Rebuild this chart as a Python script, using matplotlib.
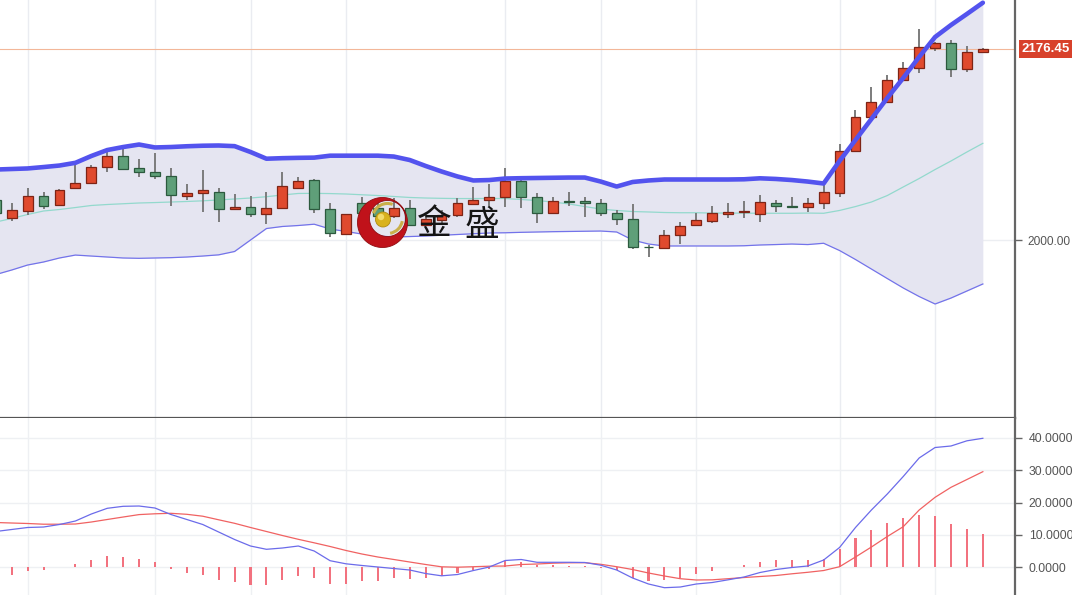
import matplotlib
matplotlib.use("Agg")
import matplotlib.pyplot as plt
import matplotlib.transforms as mtransforms
from matplotlib.patches import Circle, PathPatch, Arc
from matplotlib.path import Path
import numpy as np

# ---------------- data ----------------
idx = list(range(-1, 62))
open_ = [2036.9, 2020.3, 2026.5, 2040.7, 2032.6, 2047.8, 2052.9, 2067.7, 2077.6, 2066.8,
         2063.1, 2058.9, 2040.9, 2043.4, 2044.1, 2028.6, 2030.2, 2024.0, 2029.3, 2047.8,
         2055.2, 2028.6, 2005.3, 2034.2, 2029.6, 2022.5, 2029.3, 2013.9, 2018.5, 2023.1,
         2033.0, 2036.7, 2039.5, 2054.8, 2039.5, 2025.2, 2035.9, 2036.3, 2034.5, 2024.7,
         2019.7, 1993.5, 1992.3, 2004.6, 2013.9, 2017.8, 2024.0, 2025.5, 2024.0, 2034.5,
         2031.0, 2030.8, 2034.5, 2043.7, 2082.5, 2113.4, 2127.5, 2147.8, 2158.6, 2177.1,
         2181.7, 2157.7, 2174.0]
high = [2038.8, 2034.2, 2048.0, 2044.3, 2047.1, 2069.3, 2069.3, 2084.1, 2087.8, 2074.8,
        2080.4, 2066.5, 2051.7, 2064.7, 2048.0, 2042.5, 2040.7, 2044.3, 2062.8, 2058.5,
        2056.4, 2034.2, 2024.0, 2039.7, 2038.8, 2038.8, 2037.0, 2023.1, 2027.7, 2038.8,
        2049.2, 2051.7, 2066.5, 2058.5, 2043.4, 2039.7, 2044.6, 2039.7, 2037.9, 2027.7,
        2033.3, 1995.4, 2009.2, 2016.9, 2024.9, 2031.4, 2034.2, 2036.0, 2041.6, 2037.0,
        2040.0, 2038.8, 2050.8, 2088.7, 2120.1, 2141.1, 2152.4, 2164.7, 2194.7, 2183.2,
        2184.8, 2179.2, 2177.0]
low = [2022.2, 2017.6, 2023.1, 2028.6, 2032.3, 2047.6, 2052.7, 2062.8, 2065.1, 2058.5,
       2056.4, 2031.4, 2037.0, 2025.9, 2016.9, 2028.2, 2021.5, 2014.8, 2029.1, 2047.6,
       2024.9, 2003.1, 2005.1, 2022.2, 2020.3, 2020.3, 2012.9, 2012.9, 2015.7, 2021.3,
       2032.3, 2030.8, 2030.8, 2029.3, 2015.7, 2024.9, 2031.4, 2021.5, 2022.2, 2013.9,
       1991.4, 1984.6, 1992.2, 1996.3, 2013.4, 2016.0, 2020.1, 2020.1, 2016.9, 2026.1,
       2030.5, 2026.1, 2028.6, 2040.0, 2082.2, 2111.5, 2127.0, 2147.4, 2154.6, 2174.9,
       2150.9, 2155.5, 2173.5]
close = [2024.9, 2027.7, 2040.7, 2031.7, 2046.2, 2052.9, 2067.4, 2077.6, 2065.6, 2063.1,
         2058.9, 2041.6, 2043.7, 2045.9, 2028.4, 2030.5, 2024.0, 2029.3, 2049.9, 2054.8,
         2028.4, 2006.2, 2023.7, 2024.9, 2021.9, 2029.3, 2014.3, 2019.4, 2023.1, 2033.9,
         2037.0, 2040.0, 2054.8, 2039.5, 2025.2, 2036.3, 2035.4, 2034.2, 2025.2, 2019.7,
         1993.3, 1993.1, 2004.6, 2012.9, 2018.5, 2024.7, 2026.1, 2025.7, 2035.4, 2031.4,
         2030.8, 2034.5, 2044.6, 2082.5, 2113.9, 2127.5, 2147.8, 2158.6, 2178.0, 2181.7,
         2157.7, 2173.4, 2176.45]

boll_upper = [2065.1, 2065.6, 2066.1, 2067.4, 2068.8, 2071.3, 2077.6, 2083.1, 2085.9, 2088.2,
              2085.5, 2085.9, 2086.6, 2087.1, 2087.3, 2086.7, 2081.3, 2075.1, 2075.6, 2075.9,
              2076.1, 2077.9, 2077.9, 2077.9, 2077.9, 2077.1, 2073.9, 2068.4, 2063.3, 2058.7,
              2055.0, 2055.4, 2056.8, 2057.1, 2057.3, 2057.5, 2057.7, 2057.7, 2054.0, 2049.4,
              2053.6, 2055.0, 2055.9, 2055.9, 2055.9, 2055.9, 2055.9, 2056.1, 2057.0, 2056.4,
              2055.4, 2054.0, 2052.2, 2073.0, 2092.4, 2111.8, 2131.2, 2149.7, 2169.1, 2187.5,
              2198.6, 2208.8, 2219.2]
boll_mid = [2016.6, 2019.9, 2023.6, 2026.8, 2028.2, 2030.0, 2031.9, 2032.8, 2033.5, 2034.2,
            2034.6, 2035.1, 2035.6, 2036.2, 2037.0, 2037.9, 2038.8, 2040.0, 2041.6, 2043.0,
            2043.1, 2042.9, 2042.5, 2041.8, 2041.1, 2040.2, 2039.3, 2038.8, 2038.5, 2038.3,
            2038.3, 2038.4, 2038.3, 2037.4, 2036.5, 2035.1, 2033.3, 2030.9, 2028.6, 2027.3,
            2026.3, 2025.9, 2025.4, 2025.2, 2025.2, 2024.9, 2024.9, 2024.8, 2024.7, 2024.7,
            2024.7, 2024.9, 2024.7, 2027.3, 2030.9, 2035.1, 2041.1, 2049.0, 2056.8, 2065.1,
            2073.0, 2081.3, 2089.3]
boll_lower = [1968.1, 1972.3, 1976.9, 1979.7, 1983.4, 1986.1, 1985.2, 1984.3, 1983.4, 1983.1,
              1983.4, 1983.7, 1984.3, 1985.2, 1986.3, 1989.4, 2000.0, 2010.6, 2012.5, 2013.4,
              2014.6, 2010.2, 2007.9, 2005.5, 2003.7, 2002.8, 2003.2, 2003.7, 2004.4, 2005.1,
              2005.8, 2006.5, 2006.7, 2007.1, 2007.4, 2007.7, 2007.9, 2008.1, 2008.3, 2007.4,
              2000.0, 1996.3, 1994.5, 1994.5, 1994.5, 1994.5, 1994.5, 1994.7, 1995.4, 1995.8,
              1996.3, 1995.8, 1997.0, 1990.3, 1982.0, 1973.2, 1964.4, 1955.7, 1947.8, 1940.9,
              1946.4, 1952.9, 1959.4]

macd_dif = [11.01, 11.63, 12.25, 12.40, 13.18, 14.26, 16.43, 18.20, 18.82, 18.91,
            18.29, 16.28, 14.73, 13.18, 10.85, 8.53, 6.51, 5.49, 5.89, 6.51,
            4.96, 1.95, 0.99, 0.47, 0.00, -0.47, -0.93, -2.02, -2.73, -2.33,
            -1.09, 0.00, 2.02, 2.33, 1.46, 1.46, 1.46, 1.40, 0.56, -0.93,
            -3.41, -5.27, -6.42, -6.20, -5.27, -4.81, -3.97, -3.10, -1.71, -0.78,
            -0.16, 0.31, 2.17, 6.05, 12.25, 17.67, 22.64, 28.06, 33.80, 37.05,
            37.52, 39.13, 39.91]
macd_dea = [13.80, 13.64, 13.49, 13.27, 13.27, 13.33, 13.95, 14.73, 15.50, 16.25,
            16.50, 16.65, 16.34, 15.75, 14.64, 13.55, 12.25, 11.01, 9.77, 8.59,
            7.50, 6.36, 5.12, 4.03, 3.10, 2.33, 1.55, 0.78, 0.06, -0.06,
            0.09, 0.25, 0.31, 0.78, 0.93, 1.18, 1.30, 1.33, 0.84, 0.09,
            -0.78, -1.86, -2.79, -3.63, -4.03, -3.97, -3.63, -3.26, -2.95, -2.64,
            -2.11, -1.64, -1.09, 0.09, 3.10, 6.20, 9.46, 12.50, 17.67, 21.61,
            24.71, 27.13, 29.55]
macd_hist = [-0.60, -2.39, -1.24, -0.93, -0.10, 1.02, 2.26, 3.41, 3.10, 2.57,
             1.55, -0.53, -1.86, -2.39, -3.94, -4.74, -5.49, -5.49, -3.94, -2.70,
             -3.41, -5.18, -5.18, -4.25, -4.25, -3.41, -3.72, -3.41, -2.88, -1.86,
             -1.02, -0.53, 1.77, 1.46, 0.71, 0.71, 0.40, 0.40, -0.31, -0.84,
             -3.41, -4.43, -4.12, -3.41, -2.08, -1.15, 0.05, 0.62, 1.46, 2.08,
             2.08, 2.26, 2.57, 5.58, 8.99, 11.38, 13.64, 15.19, 16.22, 15.91,
             13.43, 11.88, 10.23]

price_ticks = [2000]
macd_ticks = [0, 10, 20, 30, 40]
grid_positions = [1, 9, 15, 21, 31, 37, 43, 52, 58]
last_price = close[-1]

# ---------------- figure ----------------
plt.rcParams['font.family'] = ['Liberation Sans', 'DejaVu Sans']
W, H = 1072, 595
fig = plt.figure(figsize=(W / 100, H / 100), dpi=100)
fig.patch.set_facecolor('white')

ax_right = 1015
split = 418
ax = fig.add_axes([0, 1 - split / H, ax_right / W, split / H])
ax2 = fig.add_axes([0, 0, ax_right / W, (H - split) / H])

x = np.array(idx, dtype=float)
o = np.array(open_); h = np.array(high); l = np.array(low); c = np.array(close)

xlim = (-0.735, 63.02)

# Bollinger band
ax.fill_between(x, boll_lower, boll_upper, color='#e5e5f1', lw=0, zorder=1)
ax.plot(x, boll_mid, color='#93d9cd', lw=0.9, zorder=2)
ax.plot(x, boll_lower, color='#7373ea', lw=0.9, zorder=2)

# candles
up = c >= o
red, red_edge = '#e04a2e', '#7e2416'
green, green_edge = '#5f9f79', '#2c5a3e'
ax.vlines(x, l, h, color='#7c7c7c', lw=1.4, zorder=3)
body_b = np.minimum(o, c)
body_h = np.maximum(np.abs(c - o), 0.9)
ax.bar(x, body_h, bottom=body_b, width=0.62,
       color=np.where(up, red, green), edgecolor=np.where(up, red_edge, green_edge),
       linewidth=0.9, zorder=4)

ax.plot(x, boll_upper, color='#5353ee', lw=3.3, zorder=5, solid_capstyle='round')

ax.axhline(last_price, color='#f3b799', lw=0.8, zorder=2)

ax.set_xlim(*xlim)
ax.set_ylim(1835.6, 2221.7)
ax.set_xticks(grid_positions)
ax.tick_params(axis='x', length=0, labelbottom=False)
ax.grid(axis='x', color='#eaecf1', lw=1, zorder=0)
ax.grid(axis='y', color='#eceef2', lw=1, zorder=0)
ax.set_axisbelow(True)
ax.yaxis.tick_right()
ax.set_yticks(price_ticks)
ax.set_yticklabels([f'{v:.2f}' for v in price_ticks])
ax.tick_params(axis='y', direction='out', length=5, width=1, color='#666666',
               labelsize=8.6, labelcolor='#555555', pad=4)
for s in ['left', 'top']:
    ax.spines[s].set_visible(False)
ax.spines['right'].set_color('#666666'); ax.spines['right'].set_linewidth(1.6)
ax.spines['bottom'].set_color('#555555'); ax.spines['bottom'].set_linewidth(1.6)

trans = mtransforms.blended_transform_factory(ax.transAxes, ax.transData)
ax.text(1.0065, last_price, f'{last_price:.2f}', transform=trans, ha='left', va='center',
        color='white', fontsize=9.5, fontweight='bold', clip_on=False, zorder=10,
        bbox=dict(boxstyle='square,pad=0.22', fc='#d8412b', ec='none'))

# MACD
ax2.bar(x, macd_hist, width=0.13, color='#f2727f', zorder=3)
ax2.plot(x, macd_dea, color='#f06262', lw=0.9, zorder=4)
ax2.plot(x, macd_dif, color='#6b6bea', lw=0.9, zorder=4)
ax2.set_xlim(*xlim)
ax2.set_ylim(-8.68, 46.2)
ax2.set_xticks(grid_positions)
ax2.tick_params(axis='x', length=0, labelbottom=False)
ax2.grid(axis='both', color='#eef0f3', lw=1, zorder=0)
ax2.set_axisbelow(True)
ax2.yaxis.tick_right()
ax2.set_yticks(macd_ticks)
ax2.set_yticklabels([f'{v:.4f}' for v in macd_ticks])
ax2.tick_params(axis='y', direction='out', length=5, width=1, color='#666666',
                labelsize=8.8, labelcolor='#555555', pad=5)
for s in ['left', 'top', 'bottom']:
    ax2.spines[s].set_visible(False)
ax2.spines['right'].set_color('#666666'); ax2.spines['right'].set_linewidth(1.6)

# ---------------- watermark logo ----------------
lx0, lx1, ly0, ly1 = 352, 412, 194, 252
lax = fig.add_axes([lx0 / W, 1 - ly1 / H, (lx1 - lx0) / W, (ly1 - ly0) / H])
lax.set_xlim(lx0, lx1); lax.set_ylim(ly1, ly0)
lax.axis('off'); lax.patch.set_alpha(0)

def circle_path(cx, cy, r, reverse=False):
    t = np.linspace(0, 2 * np.pi, 120)
    if reverse:
        t = t[::-1]
    return np.column_stack([cx + r * np.cos(t), cy + r * np.sin(t)])

outer = circle_path(382.5, 222.5, 25)
inner = circle_path(387.5, 218.5, 18, reverse=True)
verts = np.concatenate([outer, inner])
codes = ([Path.MOVETO] + [Path.LINETO] * (len(outer) - 2) + [Path.CLOSEPOLY]) * 2
lax.add_patch(PathPatch(Path(verts, codes), fc='#c0121a', ec='#900c10', lw=0.6))
lax.add_patch(Arc((387.5, 218.5), 30, 30, theta1=200, theta2=290, color='#c9b04a', lw=2.2))
lax.add_patch(Arc((387.5, 218.5), 30, 30, theta1=10, theta2=80, color='#c9b04a', lw=2.2))
lax.add_patch(Circle((383, 219.5), 7.5, fc='#d9b21e', ec='#b08a10', lw=0.6))
lax.add_patch(Circle((381, 217), 3.2, fc='#f2da6a', ec='none'))

fig.text(434 / W, 1 - 225 / H, '金', fontsize=25, family=['Noto Sans CJK SC'],
         color='#151515', ha='center', va='center')
fig.text(482 / W, 1 - 225 / H, '盛', fontsize=25, family=['Noto Sans CJK SC'],
         color='#151515', ha='center', va='center')

fig.savefig('out.png', dpi=100)
